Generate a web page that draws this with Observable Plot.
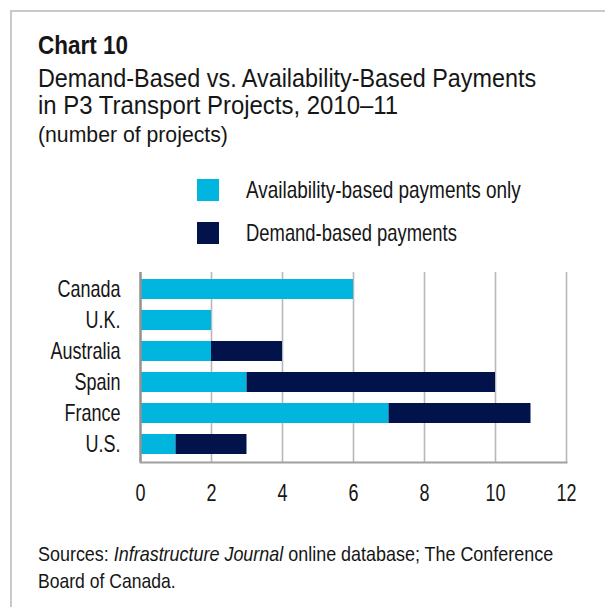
<!DOCTYPE html>
<html><head><meta charset="utf-8">
<script src="https://cdn.jsdelivr.net/npm/d3@7"></script>
<script src="https://cdn.jsdelivr.net/npm/@observablehq/plot@0.6"></script>
<style>
body{margin:0;background:#fff;}
#wrap{position:relative;width:605px;height:607px;overflow:hidden;font-family:"Liberation Sans",Arial,sans-serif;color:#161616;}
#frame{position:absolute;left:10px;top:10px;width:800px;height:800px;border-left:2px solid #c9c9c9;border-top:2px solid #c9c9c9;}
.t{position:absolute;white-space:nowrap;line-height:1;transform-origin:0 0;}
.sw{position:absolute;width:22px;height:22px;}
#plot{position:absolute;left:0;top:0;}
</style></head>
<body><div id="wrap"><div id="frame"></div>
<div class="t fit" data-r="128" style="left:38px;top:32px;font-size:26.5px;font-weight:bold;">Chart 10</div>
<div class="t fit" data-r="536" style="left:38px;top:66px;font-size:25px;">Demand-Based vs. Availability-Based Payments</div>
<div class="t fit" data-r="398" style="left:38px;top:93px;font-size:25px;">in P3 Transport Projects, 2010–11</div>
<div class="t fit" data-r="228" style="left:38px;top:124px;font-size:22px;">(number of projects)</div>
<div id="legend"></div>
<div id="plot"></div>
<div class="t fit" data-r="553" style="left:38px;top:543px;font-size:21px;">Sources: <i>Infrastructure Journal</i> online database; The Conference</div>
<div class="t fit" data-r="176" style="left:38px;top:570px;font-size:21px;">Board of Canada.</div>
</div>
<script>
const countries = ["Canada","U.K.","Australia","Spain","France","U.S."];
const availability = [6,2,2,3,7,1];
const demand = [0,0,2,7,4,2];
const seriesNames = ["Availability-based payments only","Demand-based payments"];
const seriesColors = ["#00b5de","#02124b"];
const legendRight = [521,457];
const xTicks = [0,2,4,6,8,10,12];

const data = [];
countries.forEach((c,i)=>{
  data.push({country:c, type:seriesNames[0], value:availability[i]});
  data.push({country:c, type:seriesNames[1], value:demand[i]});
});

// legend
const leg = document.getElementById("legend");
seriesNames.forEach((s,i)=>{
  const top = 179 + i*43;
  const sw = document.createElement("div");
  sw.className = "sw"; sw.style.left="197px"; sw.style.top=top+"px"; sw.style.background=seriesColors[i];
  leg.appendChild(sw);
  const tx = document.createElement("div");
  tx.className="t fit"; tx.dataset.r = legendRight[i];
  tx.style.left="246px"; tx.style.top=(top-1)+"px"; tx.style.fontSize="24px";
  tx.textContent=s;
  leg.appendChild(tx);
});

// condense text to the reference widths
document.querySelectorAll(".fit").forEach(el=>{
  const left = parseFloat(el.style.left);
  const w = el.offsetWidth;
  el.style.transform = `scaleX(${(el.dataset.r - left)/w})`;
});

const chart = Plot.plot({
  width: 605, height: 520,
  marginLeft: 140, marginRight: 39, marginTop: 272, marginBottom: 58,
  style: {fontFamily:'"Liberation Sans",Arial,sans-serif', fontSize:"24px", color:"#161616", background:"transparent"},
  x: {domain:[0,12], label:null},
  y: {domain: countries, paddingInner:0.35, paddingOuter:0.2, label:null},
  color: {domain: seriesNames, range: seriesColors},
  marks: [
    Plot.gridX(xTicks.slice(1), {stroke:"#b8b8b8", strokeOpacity:1, strokeWidth:1.6}),
    Plot.barX(data, {x:"value", y:"country", fill:"type"}),
    Plot.ruleX([0], {stroke:"#929292", strokeWidth:2.5}),
    Plot.frame({anchor:"bottom", stroke:"#a0a0a0", strokeWidth:2}),
    Plot.axisX({ticks:xTicks, tickSize:0, tickPadding:21, tickFormat:d=>String(d), fontSize:24, label:null}),
    Plot.axisY({tickSize:0, tickPadding:20, fontSize:24, label:null})
  ]
});
document.getElementById("plot").appendChild(chart);
chart.querySelectorAll("g[aria-label$='axis tick label'] text").forEach(t=>{
  const tr = t.getAttribute("transform") || "";
  t.setAttribute("transform", tr + " scale(0.75,1)");
});
</script>
</body></html>
